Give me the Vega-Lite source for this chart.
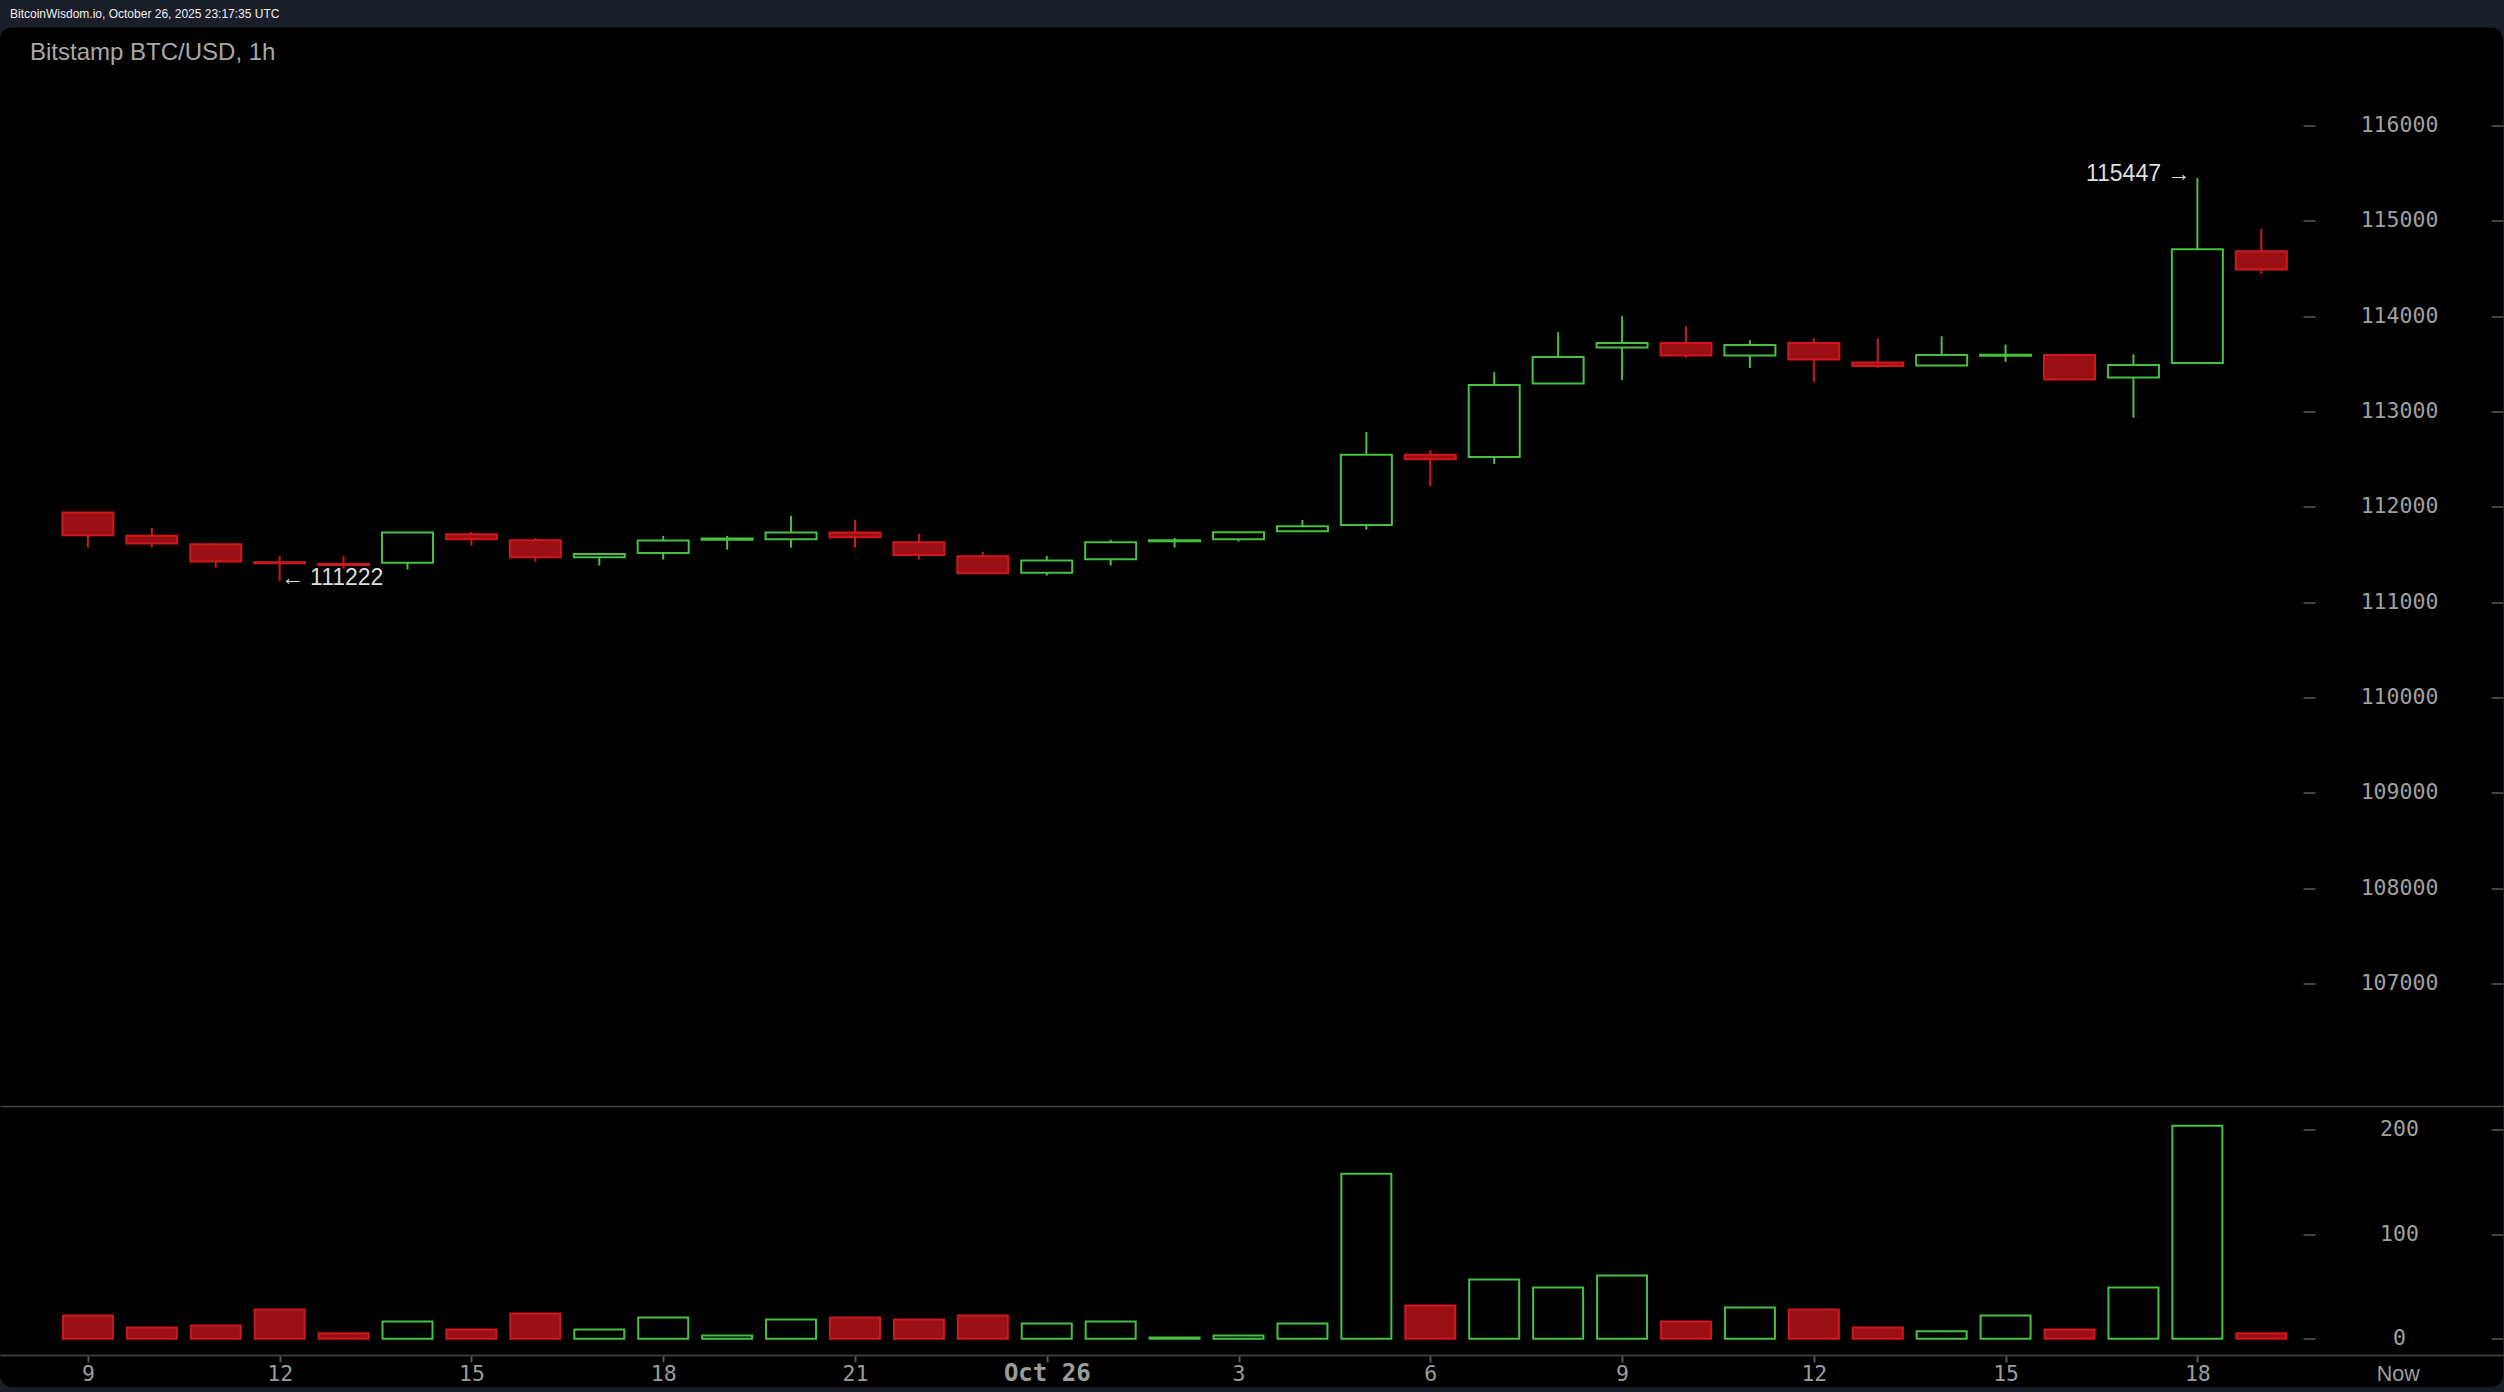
{
  "$schema": "https://vega.github.io/schema/vega-lite/v6.json",
  "width": 2504,
  "height": 1392,
  "autosize": {"type": "fit", "contains": "padding"},
  "padding": {"left": 0, "right": 0, "top": 7.5, "bottom": 5},
  "background": "#1a1e29",
  "config": {"view": {"fill": "#000000", "stroke": null, "cornerRadius": 12}, "axis": {"grid": false}},
  "title": {
    "text": "BitcoinWisdom.io, October 26, 2025 23:17:35 UTC",
    "subtitle": "\u200b\u00a0\u00a0\u00a0Bitstamp BTC/USD, 1h",
    "anchor": "start",
    "frame": "group",
    "orient": "top",
    "dx": 10,
    "offset": -38.5,
    "font": "Liberation Sans",
    "fontSize": 12,
    "fontWeight": "normal",
    "color": "#eeeeee",
    "subtitleFont": "Liberation Sans",
    "subtitleFontSize": 24,
    "subtitleColor": "#a8a8a8",
    "subtitlePadding": 20
  },
  "data": {
    "values": [
      {"t": "2025-10-25T09:00:00Z", "open": 111940, "high": 111945, "low": 111573, "close": 111703, "vol": 22.3},
      {"t": "2025-10-25T10:00:00Z", "open": 111696, "high": 111779, "low": 111573, "close": 111615, "vol": 10.9},
      {"t": "2025-10-25T11:00:00Z", "open": 111609, "high": 111615, "low": 111364, "close": 111427, "vol": 12.8},
      {"t": "2025-10-25T12:00:00Z", "open": 111420, "high": 111483, "low": 111222, "close": 111410, "vol": 28.1},
      {"t": "2025-10-25T13:00:00Z", "open": 111400, "high": 111483, "low": 111353, "close": 111390, "vol": 5.2},
      {"t": "2025-10-25T14:00:00Z", "open": 111413, "high": 111735, "low": 111343, "close": 111730, "vol": 16.6},
      {"t": "2025-10-25T15:00:00Z", "open": 111713, "high": 111738, "low": 111594, "close": 111661, "vol": 9.0},
      {"t": "2025-10-25T16:00:00Z", "open": 111651, "high": 111675, "low": 111424, "close": 111473, "vol": 24.2},
      {"t": "2025-10-25T17:00:00Z", "open": 111473, "high": 111510, "low": 111385, "close": 111505, "vol": 9.0},
      {"t": "2025-10-25T18:00:00Z", "open": 111515, "high": 111696, "low": 111448, "close": 111647, "vol": 20.4},
      {"t": "2025-10-25T19:00:00Z", "open": 111655, "high": 111696, "low": 111552, "close": 111667, "vol": 3.2},
      {"t": "2025-10-25T20:00:00Z", "open": 111661, "high": 111905, "low": 111573, "close": 111730, "vol": 18.5},
      {"t": "2025-10-25T21:00:00Z", "open": 111730, "high": 111863, "low": 111573, "close": 111682, "vol": 20.4},
      {"t": "2025-10-25T22:00:00Z", "open": 111630, "high": 111717, "low": 111448, "close": 111494, "vol": 18.5},
      {"t": "2025-10-25T23:00:00Z", "open": 111483, "high": 111528, "low": 111300, "close": 111305, "vol": 22.3},
      {"t": "2025-10-26T00:00:00Z", "open": 111308, "high": 111486, "low": 111280, "close": 111437, "vol": 14.7},
      {"t": "2025-10-26T01:00:00Z", "open": 111452, "high": 111654, "low": 111385, "close": 111630, "vol": 16.6},
      {"t": "2025-10-26T02:00:00Z", "open": 111640, "high": 111675, "low": 111573, "close": 111650, "vol": 1.3},
      {"t": "2025-10-26T03:00:00Z", "open": 111661, "high": 111736, "low": 111636, "close": 111734, "vol": 3.2},
      {"t": "2025-10-26T04:00:00Z", "open": 111745, "high": 111863, "low": 111740, "close": 111797, "vol": 14.7},
      {"t": "2025-10-26T05:00:00Z", "open": 111811, "high": 112784, "low": 111762, "close": 112547, "vol": 157.8},
      {"t": "2025-10-26T06:00:00Z", "open": 112547, "high": 112596, "low": 112219, "close": 112498, "vol": 31.9},
      {"t": "2025-10-26T07:00:00Z", "open": 112522, "high": 113412, "low": 112449, "close": 113279, "vol": 56.7},
      {"t": "2025-10-26T08:00:00Z", "open": 113294, "high": 113831, "low": 113290, "close": 113572, "vol": 49.0},
      {"t": "2025-10-26T09:00:00Z", "open": 113670, "high": 113998, "low": 113331, "close": 113719, "vol": 60.5},
      {"t": "2025-10-26T10:00:00Z", "open": 113719, "high": 113893, "low": 113562, "close": 113587, "vol": 16.6},
      {"t": "2025-10-26T11:00:00Z", "open": 113587, "high": 113747, "low": 113457, "close": 113698, "vol": 30.0},
      {"t": "2025-10-26T12:00:00Z", "open": 113719, "high": 113768, "low": 113310, "close": 113545, "vol": 28.1},
      {"t": "2025-10-26T13:00:00Z", "open": 113513, "high": 113768, "low": 113457, "close": 113478, "vol": 10.9},
      {"t": "2025-10-26T14:00:00Z", "open": 113482, "high": 113789, "low": 113478, "close": 113593, "vol": 7.1},
      {"t": "2025-10-26T15:00:00Z", "open": 113585, "high": 113702, "low": 113520, "close": 113595, "vol": 22.3},
      {"t": "2025-10-26T16:00:00Z", "open": 113593, "high": 113600, "low": 113330, "close": 113336, "vol": 9.0},
      {"t": "2025-10-26T17:00:00Z", "open": 113357, "high": 113600, "low": 112934, "close": 113488, "vol": 49.0},
      {"t": "2025-10-26T18:00:00Z", "open": 113509, "high": 115447, "low": 113500, "close": 114702, "vol": 203.6},
      {"t": "2025-10-26T19:00:00Z", "open": 114681, "high": 114916, "low": 114445, "close": 114490, "vol": 5.2}
    ]
  },
  "layer": [
    {
      "layer": [
        {
          "mark": {"type": "rule", "strokeWidth": 2},
          "encoding": {
            "x": {"field": "t", "type": "temporal", "axis": null,
                  "scale": {"type": "utc", "domain": [{"year": 2025, "month": 10, "date": 25, "hours": 7, "minutes": 42, "seconds": 11, "utc": true}, {"year": 2025, "month": 10, "date": 26, "hours": 22, "minutes": 42, "seconds": 11, "utc": true}]}},
            "y": {"field": "low", "type": "quantitative", "axis": null,
                  "scale": {"domain": [102772, 117026], "nice": false, "zero": false}},
            "y2": {"field": "high"},
            "stroke": {"condition": {"test": "datum.close >= datum.open", "value": "#46c142"}, "value": "#d0181c"}
          }
        },
        {
          "mark": {"type": "bar", "size": 51, "strokeWidth": 2},
          "encoding": {
            "x": {"field": "t", "type": "temporal", "axis": null},
            "y": {"field": "open", "type": "quantitative", "axis": null},
            "y2": {"field": "close"},
            "fill": {"condition": {"test": "datum.close >= datum.open", "value": "#000000"}, "value": "#9a1014"},
            "stroke": {"condition": {"test": "datum.close >= datum.open", "value": "#46c142"}, "value": "#d0181c"}
          }
        },
        {
          "data": {"values": [{"t": "2025-10-26T18:00:00Z", "price": 115447, "label": "115447 →"}]},
          "mark": {"type": "text", "align": "right", "baseline": "middle", "dx": -7, "dy": -4, "font": "Liberation Sans", "fontSize": 23, "color": "#dedede"},
          "encoding": {
            "x": {"field": "t", "type": "temporal", "axis": null},
            "y": {"field": "price", "type": "quantitative", "axis": null},
            "text": {"field": "label"}
          }
        },
        {
          "data": {"values": [{"t": "2025-10-25T12:00:00Z", "price": 111222, "label": "← 111222"}]},
          "mark": {"type": "text", "align": "left", "baseline": "middle", "dx": 1, "dy": -3, "font": "Liberation Sans", "fontSize": 23, "color": "#dedede"},
          "encoding": {
            "x": {"field": "t", "type": "temporal", "axis": null},
            "y": {"field": "price", "type": "quantitative", "axis": null},
            "text": {"field": "label"}
          }
        }
      ]
    },
    {
      "mark": {"type": "bar", "size": 50, "strokeWidth": 2},
      "encoding": {
        "x": {"field": "t", "type": "temporal",
              "axis": {"orient": "bottom", "offset": -32, "title": null, "grid": false,
                       "values": [
                         {"year": 2025, "month": 10, "date": 25, "hours": 9, "utc": true},
                         {"year": 2025, "month": 10, "date": 25, "hours": 12, "utc": true},
                         {"year": 2025, "month": 10, "date": 25, "hours": 15, "utc": true},
                         {"year": 2025, "month": 10, "date": 25, "hours": 18, "utc": true},
                         {"year": 2025, "month": 10, "date": 25, "hours": 21, "utc": true},
                         {"year": 2025, "month": 10, "date": 26, "hours": 0, "utc": true},
                         {"year": 2025, "month": 10, "date": 26, "hours": 3, "utc": true},
                         {"year": 2025, "month": 10, "date": 26, "hours": 6, "utc": true},
                         {"year": 2025, "month": 10, "date": 26, "hours": 9, "utc": true},
                         {"year": 2025, "month": 10, "date": 26, "hours": 12, "utc": true},
                         {"year": 2025, "month": 10, "date": 26, "hours": 15, "utc": true},
                         {"year": 2025, "month": 10, "date": 26, "hours": 18, "utc": true},
                         {"year": 2025, "month": 10, "date": 26, "hours": 21, "minutes": 8, "seconds": 10, "utc": true}
                       ],
                       "labelExpr": "utchours(datum.value) == 0 ? 'Oct 26' : ((utcdate(datum.value) == 26 && utchours(datum.value) >= 20) ? 'Now' : '' + utchours(datum.value))",
                       "domain": true, "domainColor": "#3c3c3c", "domainWidth": 2,
                       "ticks": true, "tickSize": 7, "tickWidth": 2,
                       "tickColor": {"condition": {"test": "utcdate(datum.value) == 26 && utchours(datum.value) >= 20", "value": "transparent"}, "value": "#555555"},
                       "labelFont": {"condition": {"test": "utcdate(datum.value) == 26 && utchours(datum.value) >= 20", "value": "Liberation Sans"}, "value": "DejaVu Sans Mono"},
                       "labelFontSize": {"condition": {"test": "utchours(datum.value) == 0", "value": 24}, "value": 21.5},
                       "labelFontWeight": {"condition": {"test": "utchours(datum.value) == 0", "value": "bold"}, "value": "normal"},
                       "labelColor": "#9c9c9c", "labelBaseline": "alphabetic", "labelPadding": 18,
                       "labelOverlap": false, "labelFlush": false, "labelBound": false}},
        "y": {"field": "vol", "type": "quantitative",
              "scale": {"domain": [-46.07, 1253.2], "nice": false, "zero": false},
              "axis": {"orient": "right", "offset": -200, "title": null, "values": [0, 100, 200],
                       "format": "d", "domain": false, "grid": false,
                       "tickSize": 12, "tickWidth": 2, "tickColor": "#444444",
                       "labelFont": "DejaVu Sans Mono", "labelFontSize": 21.5, "labelColor": "#a0a0a0",
                       "labelAlign": "center", "labelPadding": 84, "labelOverlap": false}},
        "y2": {"datum": 0},
        "fill": {"condition": {"test": "datum.close >= datum.open", "value": "#000000"}, "value": "#9a1014"},
        "stroke": {"condition": {"test": "datum.close >= datum.open", "value": "#46c142"}, "value": "#d0181c"}
      }
    },
    {
      "mark": {"type": "point", "opacity": 0},
      "encoding": {
        "x": {"field": "t", "type": "temporal",
              "axis": {"orient": "bottom", "offset": -281, "title": null, "grid": false,
                       "domain": true, "domainColor": "#444444", "domainWidth": 1.5,
                       "ticks": false, "labels": false}},
        "y": {"field": "high", "type": "quantitative",
              "scale": {"domain": [102772, 117026], "nice": false, "zero": false},
              "axis": {"orient": "right", "offset": -200, "title": null,
                       "values": [107000, 108000, 109000, 110000, 111000, 112000, 113000, 114000, 115000, 116000],
                       "format": "d", "domain": false, "grid": false,
                       "tickSize": 12, "tickWidth": 2, "tickColor": "#444444",
                       "labelFont": "DejaVu Sans Mono", "labelFontSize": 21.5, "labelColor": "#a0a0a0",
                       "labelAlign": "center", "labelPadding": 84, "labelOverlap": false}}
      }
    },
    {
      "mark": {"type": "point", "opacity": 0},
      "encoding": {
        "x": {"field": "t", "type": "temporal", "axis": null},
        "y": {"field": "high", "type": "quantitative",
              "scale": {"domain": [102772, 117026], "nice": false, "zero": false},
              "axis": {"orient": "right", "offset": -12, "title": null,
                       "values": [107000, 108000, 109000, 110000, 111000, 112000, 113000, 114000, 115000, 116000],
                       "domain": false, "grid": false, "labels": false,
                       "tickSize": 12, "tickWidth": 2, "tickColor": "#444444"}}
      }
    },
    {
      "mark": {"type": "point", "opacity": 0},
      "encoding": {
        "x": {"field": "t", "type": "temporal", "axis": null},
        "y": {"field": "vol", "type": "quantitative",
              "scale": {"domain": [-46.07, 1253.2], "nice": false, "zero": false},
              "axis": {"orient": "right", "offset": -12, "title": null, "values": [0, 100, 200],
                       "domain": false, "grid": false, "labels": false,
                       "tickSize": 12, "tickWidth": 2, "tickColor": "#444444"}}
      }
    }
  ],
  "resolve": {"scale": {"y": "independent"}, "axis": {"x": "independent", "y": "independent"}}
}
